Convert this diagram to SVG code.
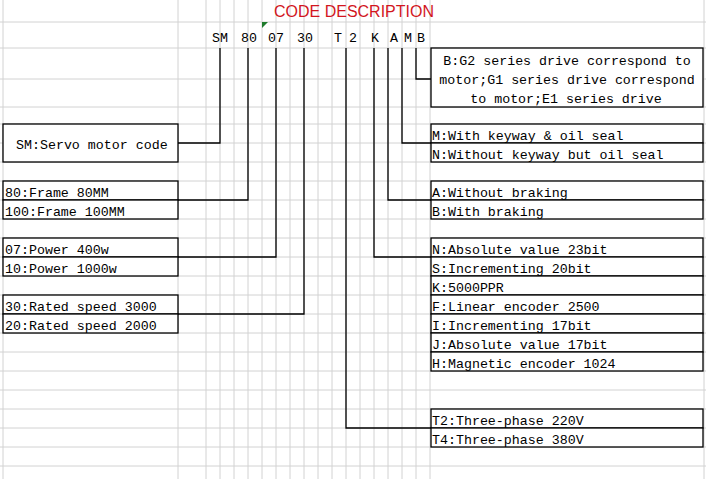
<svg xmlns="http://www.w3.org/2000/svg" width="706" height="479" viewBox="0 0 706 479">
<style>
.g{stroke:#d2d2d2;stroke-width:1;fill:none}
.b{fill:#fff;stroke:#000;stroke-width:1.3}
.c{fill:none;stroke:#000;stroke-width:1.3}
.t{font-family:"Liberation Mono","DejaVu Sans Mono",monospace;font-size:13.3px;fill:#000}
.m{text-anchor:middle}
.title{font-family:"Liberation Sans",Arial,sans-serif;font-size:16px;fill:#d2161e;text-anchor:middle}
</style>
<rect x="0" y="0" width="706" height="479" fill="#fff"/>
<g id="grid">
<path class="g" d="M0 22H706M0 48H706M0 79H706M0 107H706M0 124H706M0 143H706M0 162H706M0 181H706M0 200H706M0 219H706M0 238H706M0 257H706M0 276H706M0 295H706M0 314H706M0 333H706M0 352H706M0 371H706M0 390H706M0 409H706M0 428H706M0 447H706M0 466H706"/>
<path class="g" d="M3 0V479M178 0V479M206 0V479M220 0V479M234 0V479M248 0V479M262 0V479M276 0V479M290 0V479M304 0V479M318 0V479M332 0V479M346 0V479M360 0V479M374 0V479M388 0V479M402 0V479M416 0V479M430 0V479M704 0V479"/>
</g>
<g id="title">
<text class="title" x="354" y="17">CODE DESCRIPTION</text>
<path d="M262 22H268L262 28Z" fill="#1e7b2c"/>
</g>
<g id="code">
<text class="t m" x="220" y="42">SM</text>
<text class="t m" x="249" y="42">80</text>
<text class="t m" x="276" y="42">07</text>
<text class="t m" x="305" y="42">30</text>
<text class="t m" x="338" y="42">T</text>
<text class="t m" x="353" y="42">2</text>
<text class="t m" x="375" y="42">K</text>
<text class="t m" x="394" y="42">A</text>
<text class="t m" x="408" y="42">M</text>
<text class="t m" x="421" y="42">B</text>
</g>
<g id="connectors">
<path class="c" d="M220 48V143H178"/>
<path class="c" d="M248 48V200H178"/>
<path class="c" d="M276 48V257H178"/>
<path class="c" d="M304 48V314H178"/>
<path class="c" d="M346 48V428H431"/>
<path class="c" d="M374 48V257H431"/>
<path class="c" d="M388 48V200H431"/>
<path class="c" d="M402 48V143H431"/>
<path class="c" d="M416 48V79H431"/>
</g>
<g id="node-sm">
<rect class="b" x="3" y="124" width="175" height="38"/>
<text class="t" x="16" y="149">SM:Servo motor code</text>
</g>
<g id="node-frame">
<rect class="b" x="3" y="181" width="175" height="19"/>
<rect class="b" x="3" y="200" width="175" height="19"/>
<text class="t" x="5" y="197">80:Frame 80MM</text>
<text class="t" x="5" y="216">100:Frame 100MM</text>
</g>
<g id="node-power">
<rect class="b" x="3" y="238" width="175" height="19"/>
<rect class="b" x="3" y="257" width="175" height="19"/>
<text class="t" x="5" y="254">07:Power 400w</text>
<text class="t" x="5" y="273">10:Power 1000w</text>
</g>
<g id="node-speed">
<rect class="b" x="3" y="295" width="175" height="19"/>
<rect class="b" x="3" y="314" width="175" height="19"/>
<text class="t" x="5" y="311">30:Rated speed 3000</text>
<text class="t" x="5" y="330">20:Rated speed 2000</text>
</g>
<g id="node-b">
<rect class="b" x="431" y="48" width="272" height="59"/>
<text class="t m" x="567" y="65">B:G2 series drive correspond to</text>
<text class="t m" x="567" y="84">motor;G1 series drive correspond</text>
<text class="t m" x="566" y="103">to motor;E1 series drive</text>
</g>
<g id="node-m">
<rect class="b" x="431" y="124" width="272" height="19"/>
<rect class="b" x="431" y="143" width="272" height="19"/>
<text class="t" x="432" y="140">M:With keyway &amp; oil seal</text>
<text class="t" x="432" y="159">N:Without keyway but oil seal</text>
</g>
<g id="node-a">
<rect class="b" x="431" y="181" width="272" height="19"/>
<rect class="b" x="431" y="200" width="272" height="19"/>
<text class="t" x="432" y="197">A:Without braking</text>
<text class="t" x="432" y="216">B:With braking</text>
</g>
<g id="node-k">
<rect class="b" x="431" y="238" width="272" height="19"/>
<rect class="b" x="431" y="257" width="272" height="19"/>
<rect class="b" x="431" y="276" width="272" height="19"/>
<rect class="b" x="431" y="295" width="272" height="19"/>
<rect class="b" x="431" y="314" width="272" height="19"/>
<rect class="b" x="431" y="333" width="272" height="19"/>
<rect class="b" x="431" y="352" width="272" height="19"/>
<text class="t" x="432" y="254">N:Absolute value 23bit</text>
<text class="t" x="432" y="273">S:Incrementing 20bit</text>
<text class="t" x="432" y="292">K:5000PPR</text>
<text class="t" x="432" y="311">F:Linear encoder 2500</text>
<text class="t" x="432" y="330">I:Incrementing 17bit</text>
<text class="t" x="432" y="349">J:Absolute value 17bit</text>
<text class="t" x="432" y="368">H:Magnetic encoder 1024</text>
</g>
<g id="node-t">
<rect class="b" x="431" y="409" width="272" height="19"/>
<rect class="b" x="431" y="428" width="272" height="19"/>
<text class="t" x="432" y="425">T2:Three-phase 220V</text>
<text class="t" x="432" y="444">T4:Three-phase 380V</text>
</g>
</svg>
